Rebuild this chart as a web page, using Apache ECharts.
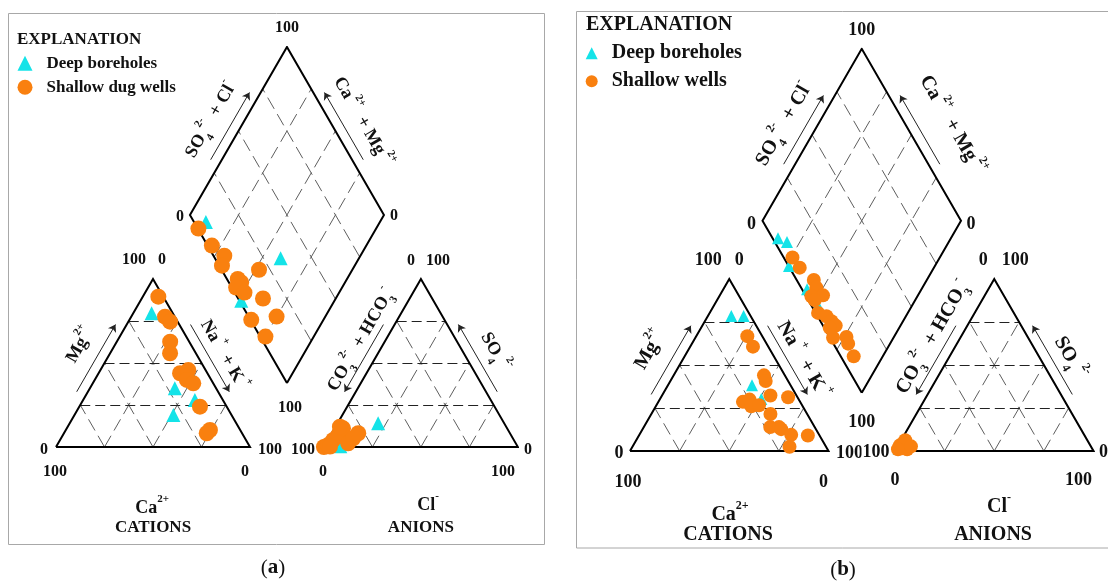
<!DOCTYPE html>
<html><head><meta charset="utf-8">
<script src="https://cdn.jsdelivr.net/npm/echarts@6/dist/echarts.min.js"></script>
<style>html,body{margin:0;padding:0;background:#fff}#c{width:1108px;height:581px}</style>
</head><body><div id="c"></div>
<script>
// ---------------- DATA (percent, meq-based) ----------------
// Cation triangle points: [Ca2+, Mg2+]  (Na+ + K+ = remainder)
const catDeepA    = [[10.9,79.6],[21.3,34.9],[14.4,28.0],[30.0,19.0]];
const catShallowA = [[2.5,89.5],[5.0,77.6],[3.9,74.6],[9.8,62.7],[13.3,55.8],[14.1,43.9],[8.9,45.8],[12.6,39.9],[10.3,37.9],[13.8,24.0],[18.2,8.2],[15.6,10.1]];
// Anion triangle points: [SO4 2-, Cl-]  (CO3 2- + HCO3- = remainder)
const aniDeepA    = [[14.1,20.9],[0.5,8.2]];
const aniShallowA = [[0,0],[1.2,1.6],[4.2,2.7],[7.1,3.8],[11.1,4.3],[12.1,2.2],[2.2,11.4],[5.2,12.5],[8.2,13.6],[0.3,3.0]];
// Diamond points: [Ca2+ + Mg2+, SO4 2- + Cl-]
const diaDeepA    = [[89.7,6.1],[40.4,33.9],[48.0,0.9]];
const diaShallowA = [[91.6,0.3],[79.6,2.2],[70.2,5.6],[68.4,1.4],[56.3,5.6],[53.5,6.3],[54.6,2.2],[48.8,5.0],[48.1,19.3],[37.5,12.8],[37.2,0.4],[25.1,14.4],[24.9,2.7]];

const catDeepB    = [[9.7,78.5],[3.5,78.5],[19.4,38.3],[18.7,30.3]];
const catShallowB = [[7.5,66.8],[7.7,60.7],[10.5,44.0],[11.3,40.7],[28.8,28.6],[24.8,29.9],[25.9,26.0],[21.7,26.6],[13.1,32.3],[4.7,31.3],[18.5,21.5],[22.4,13.9],[18.0,13.9],[17.5,12.7],[14.1,9.4],[5.9,9.0],[18.4,2.5]];
const aniDeepB    = [[1.5,1.0],[3.0,2.5],[2.0,4.0],[4.0,1.5]];
const aniShallowB = [[3.3,0.8],[4.5,2.3],[3.3,4.9],[1.6,2.7],[1.0,5.6],[6.3,2.0],[1.0,1.0],[2.7,6.7]];
const diaDeepB    = [[87.1,2.7],[81.5,6.2],[73.5,0.2],[57.6,2.5],[47.4,3.3]];
const diaShallowB = [[74.2,4.4],[67.6,5.1],[56.9,8.6],[53.4,7.7],[53.4,2.7],[47.8,8.8],[50.6,3.2],[45.2,1.2],[40.0,4.4],[36.0,5.5],[32.6,6.4],[35.0,2.7],[30.4,1.5],[23.9,8.5],[21.1,7.4],[14.6,6.5]];

const gridTicks = [25, 50, 75];
const legendNamesA = ['Deep boreholes', 'Shallow dug wells'];
const legendNamesB = ['Deep boreholes', 'Shallow wells'];

// ---------------- LAYOUT ----------------
const H = Math.sqrt(3) / 2;
const FONT = '"Liberation Serif","Times New Roman",serif';
const CYAN = '#14E3E8', ORANGE = '#F9800F';

const PANELS = [
  { s:1.94, ox:56, oy:447, g:38.1, hB:33, tickFs:16, nameFs:18, capsFs:17, legFs:17,
    cyanSize:14, orangeSize:16, names:legendNamesA,
    catDeep:catDeepA, catShallow:catShallowA, aniDeep:aniDeepA, aniShallow:aniShallowA, diaDeep:diaDeepA, diaShallow:diaShallowA,
    legend:{left:17.5, top:54.3, icon:15, textPad:9, itemGap:6, lineHeight:18},
    expl:[17,40], frame:[8.5,13.5,536,531], caption:[273,568,'a'],
    ticks:[['T',0,-19,'100'],['L',-10,2,'0'],['R',10,1,'0'],['B',3,25,'100'],
      ['CA',-19,-19,'100'],['CA',9,-19,'0'],['CL',-12,3,'0'],['CL',-1,25,'100'],['CR',20,3,'100'],['CR',-5,25,'0'],
      ['AA',-10,-18,'0'],['AA',17,-18,'100'],['AL',-21,3,'100'],['AL',-1,25,'0'],['AR',10,3,'0'],['AR',-15,25,'100']],
    lab:{mg:[12.4,52.6],nak:[86.6,47.4],ca:[49.5,-31.4],cat:[50,-41.8],co3:[157.2,55.2],so4:[226.3,49],cl:[191.8,-29.9],ani:[188.1,-41.8],dsc:[79.9,168.6],dcm:[158.2,167.5]}
  },
  { s:1.985, ox:630, oy:451, g:33.5, hB:29.4, tickFs:18, nameFs:20, capsFs:20, legFs:20,
    cyanSize:12, orangeSize:14, names:legendNamesB,
    catDeep:catDeepB, catShallow:catShallowB, aniDeep:aniDeepB, aniShallow:aniShallowB, diaDeep:diaDeepB, diaShallow:diaShallowB,
    legend:{left:585.7, top:42.8, icon:12, textPad:9, itemGap:7, lineHeight:21},
    expl:[586,25], frame:[576.5,11.5,540,536.5], caption:[843,570,'b'],
    ticks:[['T',0,-18,'100'],['L',-11,4,'0'],['R',10,4,'0'],['B',0,30,'100'],
      ['CA',-21,-19,'100'],['CA',10,-19,'0'],['CL',-11,2,'0'],['CL',-2,31,'100'],['CR',21,2,'100'],['CR',-5,31,'0'],
      ['AA',-11,-19,'0'],['AA',21,-19,'100'],['AL',-19,1,'100',true],['AL',0,29,'0'],['AR',10,1,'0'],['AR',-15,29,'100']],
    lab:{mg:[10.1,50.9],nak:[87.2,45.8],ca:[50.4,-32.2],cat:[49.4,-42.3],co3:[152.6,57.4],so4:[221.7,46.9],cl:[185.9,-28.2],ani:[182.9,-42.3],dsc:[77.6,164.7],dcm:[162.2,164.2]}
  }
];

function geom(p){
  const g=p.g, hB=p.hB, bx=100+g/2;
  return { CL:[0,0], CR:[100,0], CA:[50,100*H], AL:[100+g,0], AR:[200+g,0], AA:[150+g,100*H],
           B:[bx,hB], L:[bx-50,hB+100*H], R:[bx+50,hB+100*H], T:[bx,hB+200*H] };
}
const cat = (p,ca,mg) => { const nak=100-ca-mg; return [nak+mg/2, mg*H]; };
const ani = (p,so4,cl) => [100+p.g+cl+so4/2, so4*H];
const dia = (p,cm,sc) => [100+p.g/2+(sc-cm)/2, p.hB+(cm+sc)*H];
const lerp = (a,b,t) => [a[0]+(b[0]-a[0])*t, a[1]+(b[1]-a[1])*t];
const seg = (a,b) => ({coords:[a,b]});
const px = (p,u) => [p.ox+u[0]*p.s, p.oy-u[1]*p.s];

function richFor(fs){
  const f={fontFamily:FONT,fontWeight:'bold',fill:'#111',color:'#111'};
  const small=Math.round(fs*0.62);
  return { n:{...f,fontSize:fs,lineHeight:fs+10},
           sup:{...f,fontSize:small,lineHeight:small,verticalAlign:'top'},
           sub:{...f,fontSize:small,lineHeight:small,verticalAlign:'bottom'} };
}
function txt(x,y,text,fs,rot,bg){
  return { type:'text', x, y, rotation:(rot||0)*Math.PI/180, silent:true, z:100,
    style:{ text, align:'center', verticalAlign:'middle', fill:'#111', font:'bold '+fs+'px '+FONT,
      rich:richFor(fs), backgroundColor:bg?'#fff':'transparent', padding:bg?[0,1]:0 } };
}

const series=[], graphics=[], legends=[];
PANELS.forEach((p,i)=>{
  const G=geom(p);
  const common={type:'lines', coordinateSystem:'cartesian2d', xAxisIndex:i, yAxisIndex:i, silent:true};
  const hz=[], dg=[];
  gridTicks.forEach(k=>{
    [0,100+p.g].forEach(x0=>{
      hz.push(seg([x0+k/2,k*H],[x0+100-k/2,k*H]));
      dg.push(seg([x0+k,0],[x0+(100+k)/2,(100-k)*H]));
      dg.push(seg([x0+k,0],[x0+k/2,k*H]));
    });
    dg.push(seg(dia(p,k,0),dia(p,k,100)));
    dg.push(seg(dia(p,0,k),dia(p,100,k)));
  });
  series.push({...common, polyline:false, data:dg, lineStyle:{color:'#5e5e5e',width:1,type:[13,6],opacity:1}, z:1});
  series.push({...common, polyline:false, data:hz, lineStyle:{color:'#222',width:1,type:[10,5],opacity:1}, z:1});
  series.push({...common, polyline:true,
    data:[{coords:[G.CL,G.CR,G.CA,G.CL]},{coords:[G.AL,G.AR,G.AA,G.AL]},{coords:[G.B,G.R,G.T,G.L,G.B]}],
    lineStyle:{color:'#000',width:2,opacity:1,join:'miter'}, z:2});
  const off=5, nl=[-H,0.5], nr=[H,0.5], nb=[0,-1];
  const arr=(a,b,n)=>{const s0=lerp(a,b,0.3), s1=lerp(a,b,0.7);
    return seg([s0[0]+n[0]*off,s0[1]+n[1]*off],[s1[0]+n[0]*off,s1[1]+n[1]*off]);};
  series.push({...common, polyline:false, symbol:['none','arrow'], symbolSize:7,
    data:[arr(G.CL,G.CA,nl),arr(G.CA,G.CR,nr),arr(G.CR,G.CL,nb),arr(G.AA,G.AL,nl),arr(G.AR,G.AA,nr),arr(G.AL,G.AR,nb),arr(G.L,G.T,nl),arr(G.R,G.T,nr)],
    lineStyle:{color:'#222',width:1,opacity:1}, z:2});
  series.push({type:'scatter', name:p.names[0], xAxisIndex:i, yAxisIndex:i, symbol:'triangle', symbolSize:p.cyanSize,
    clip:false, z:3, itemStyle:{color:CYAN,opacity:1},
    data:[...p.catDeep.map(d=>cat(p,d[0],d[1])), ...p.aniDeep.map(d=>ani(p,d[0],d[1])), ...p.diaDeep.map(d=>dia(p,d[0],d[1]))]});
  series.push({type:'scatter', name:p.names[1], xAxisIndex:i, yAxisIndex:i, symbol:'circle', symbolSize:p.orangeSize,
    clip:false, z:4, itemStyle:{color:ORANGE,opacity:1},
    data:[...p.catShallow.map(d=>cat(p,d[0],d[1])), ...p.aniShallow.map(d=>ani(p,d[0],d[1])), ...p.diaShallow.map(d=>dia(p,d[0],d[1]))]});

  legends.push({ data:[{name:p.names[0],icon:'triangle'},{name:p.names[1],icon:'circle'}], orient:'vertical',
    left:p.legend.left, top:p.legend.top, padding:0,
    itemWidth:p.legend.icon, itemHeight:p.legend.icon, itemGap:p.legend.itemGap, selectedMode:false,
    textStyle:{fontFamily:FONT, fontWeight:'bold', fontSize:p.legFs, lineHeight:p.legend.lineHeight, color:'#111', padding:[0,0,0,p.legend.textPad]} });

  const f=p.frame;
  graphics.push({type:'rect', silent:true, z:0, shape:{x:f[0],y:f[1],width:f[2],height:f[3]}, style:{fill:'none',stroke:'#a8a8a8',lineWidth:1}});
  graphics.push({type:'text', silent:true, z:100, x:p.expl[0], y:p.expl[1],
    style:{text:'EXPLANATION', font:'bold '+p.legFs+'px '+FONT, fill:'#111', align:'left', verticalAlign:'middle'}});
  const c=p.caption;
  graphics.push({type:'text', silent:true, z:100, x:c[0], y:c[1],
    style:{text:'{p|(}{b|'+c[2]+'}{p|)}', align:'center', verticalAlign:'middle', fill:'#111',
      rich:{p:{fontFamily:FONT,fontSize:21,fill:'#111'}, b:{fontFamily:FONT,fontSize:21,fontWeight:'bold',fill:'#111'}}}});
  p.ticks.forEach(t=>{ const q=px(p,G[t[0]]); graphics.push(txt(q[0]+t[1], q[1]+t[2], '{n|'+t[3]+'}', p.tickFs, 0, t[4])); });
  const L=p.lab, nf=p.nameFs, cf=p.capsFs;
  const put=(u,text,fs,rot)=>{const q=px(p,u); graphics.push(txt(q[0],q[1],text,fs,rot));};
  put(L.mg,'{n|Mg}{sup|2+}',nf,60);
  put(L.nak,'{n|Na}{sup| +}{n|  + K}{sup| +}',nf,-60);
  put(L.ca,'{n|Ca}{sup|2+}',nf,0);
  put(L.cat,'{n|CATIONS}',cf,0);
  put(L.co3,'{n|CO}{sub|3}{sup|2-}{n|  + HCO}{sub|3}{sup|-}',nf,60);
  put(L.so4,'{n|SO}{sub|4}{sup| 2-}',nf,-60);
  put(L.cl,'{n|Cl}{sup|-}',nf,0);
  put(L.ani,'{n|ANIONS}',cf,0);
  put(L.dsc,'{n|SO}{sub|4}{sup|2-}{n|  + Cl}{sup|-}',nf,60);
  put(L.dcm,'{n|Ca}{sup| 2+}{n|  + Mg}{sup| 2+}',nf,-60);
});

const chart = echarts.init(document.getElementById('c'), null, {renderer:'canvas'});
chart.setOption({
  animation:false,
  backgroundColor:'#fff',
  grid: PANELS.map(p=>({left:p.ox, top:p.oy-(p.hB+200*H)*p.s, width:(200+p.g)*p.s, height:(p.hB+200*H)*p.s})),
  xAxis: PANELS.map((p,i)=>({type:'value', gridIndex:i, min:0, max:200+p.g, show:false})),
  yAxis: PANELS.map((p,i)=>({type:'value', gridIndex:i, min:0, max:p.hB+200*H, show:false})),
  legend: legends,
  graphic: graphics,
  series: series
});
</script></body></html>
